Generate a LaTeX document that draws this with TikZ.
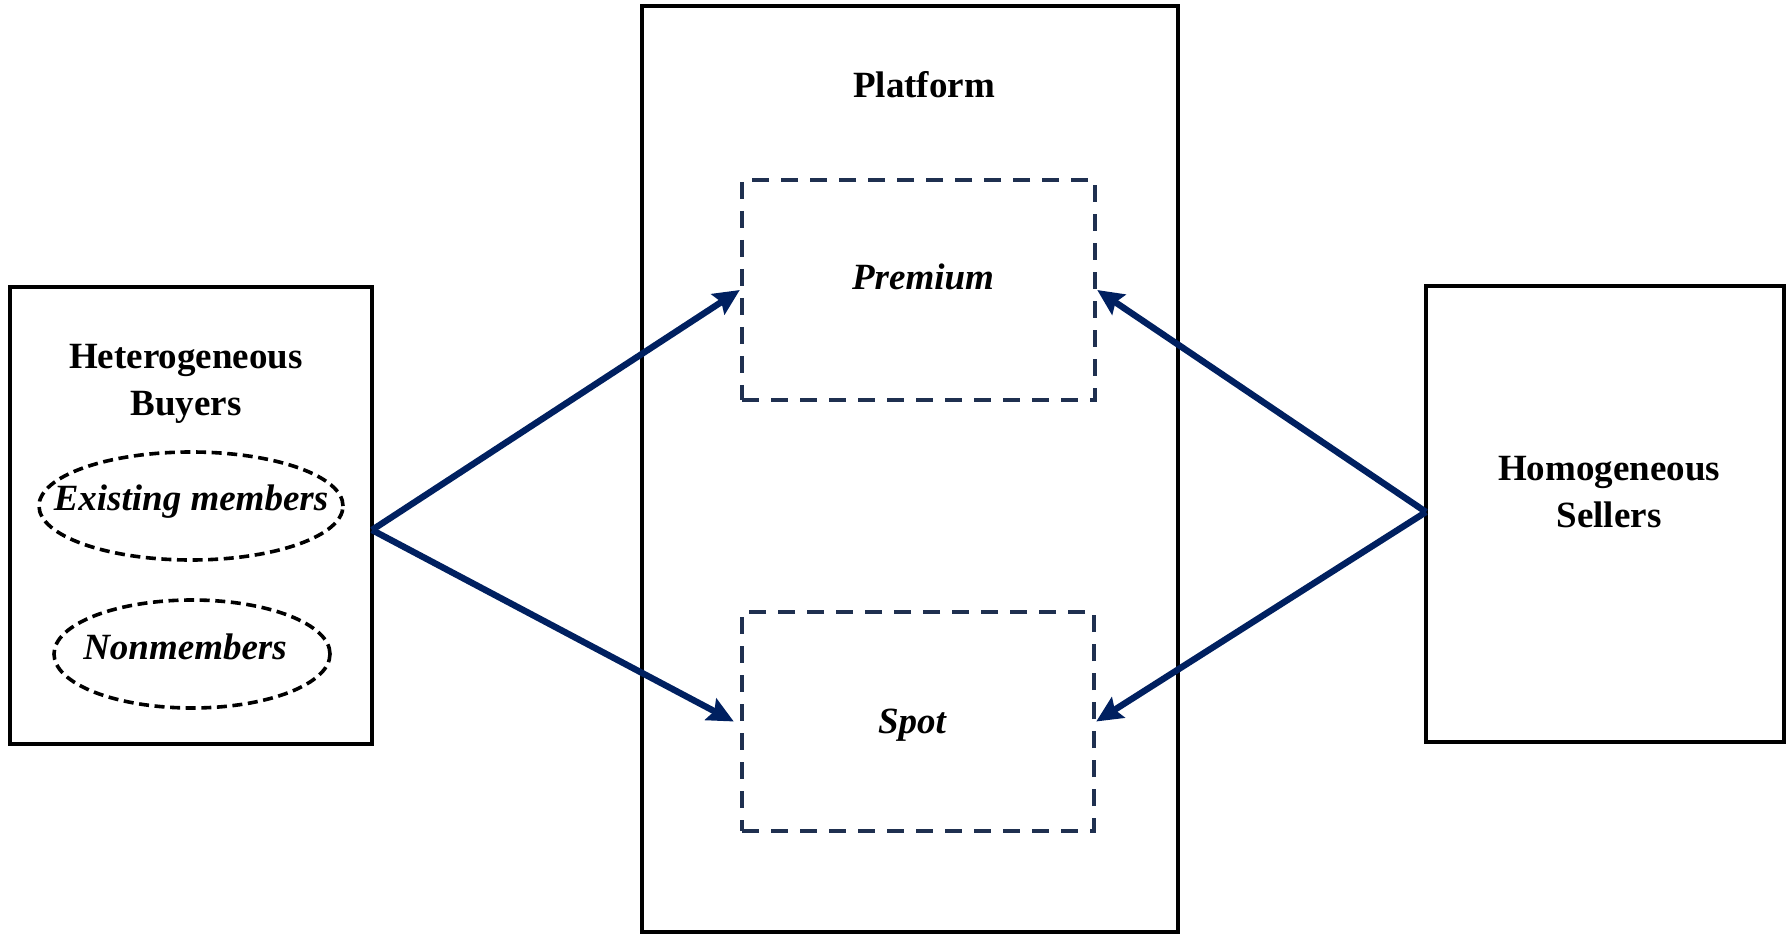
\documentclass[tikz,border=0pt]{standalone}
\usepackage{fontspec}
\setmainfont{Liberation Serif}
\usetikzlibrary{arrows.meta,shapes.geometric}
\definecolor{arrowblue}{HTML}{002060}
\definecolor{dashblue}{HTML}{1F3050}
\tikzset{
  solidbox/.style={draw=black, line width=1.9pt, rectangle, inner sep=0pt},
  dashbox/.style={draw=dashblue, line width=2.2pt, dash pattern=on 8.5pt off 6pt, rectangle, inner sep=0pt},
  dashell/.style={draw=black, line width=1.8pt, dash pattern=on 5pt off 2.8pt, ellipse, inner sep=0pt},
  lbl/.style={font=\fontsize{18.5}{23.5}\selectfont\bfseries, align=center, inner sep=0pt},
  ilbl/.style={font=\fontsize{18.5}{23.5}\selectfont\bfseries\itshape, align=center, inner sep=0pt},
  conn/.style={draw=arrowblue, line width=3.2pt, -{Stealth[length=13pt,width=12pt,inset=2pt]}}
}
\begin{document}
\begin{tikzpicture}[x=0.5pt,y=-0.5pt]
\useasboundingbox (0,0) rectangle (1787,935);
% platform
\node[solidbox, minimum width=268pt, minimum height=463pt] (platform) at (910,469) {};
\node[lbl] (platformtext) at (924,85) {Platform};
% premium and spot
\node[dashbox, minimum width=176.5pt, minimum height=110pt] (premium) at (918.5,290) {};
\node[ilbl] (premiumtext) at (923,277) {Premium};
\node[dashbox, minimum width=176pt, minimum height=109.5pt] (spot) at (918,721.5) {};
\node[ilbl] (spottext) at (912,725) {Spot};
% buyers
\node[solidbox, minimum width=181pt, minimum height=228.5pt] (buyers) at (191,515.5) {};
\node[lbl] (buyerstext) at (186,384) {Heterogeneous\\Buyers};
\node[dashell, minimum width=152pt, minimum height=54pt] (exist) at (191,506) {};
\node[ilbl] (existtext) at (191,502) {Existing members};
\node[dashell, minimum width=138pt, minimum height=54pt] (nonmem) at (192,654) {};
\node[ilbl] (nonmemtext) at (185,647) {Nonmembers};
% sellers
\node[solidbox, minimum width=179pt, minimum height=228pt] (sellers) at (1605,514) {};
\node[lbl] (sellerstext) at (1609,492) {Homogeneous\\Sellers};
% connectors
\coordinate (bout) at (372,530);
\coordinate (sout) at (1426,512);
\draw[conn] (bout) -- (premium.west);
\draw[conn] (bout) -- ([xshift=-3pt]spot.west);
\draw[conn] (sout) -- (premium.east);
\draw[conn] (sout) -- (spot.east);
\end{tikzpicture}
\end{document}
